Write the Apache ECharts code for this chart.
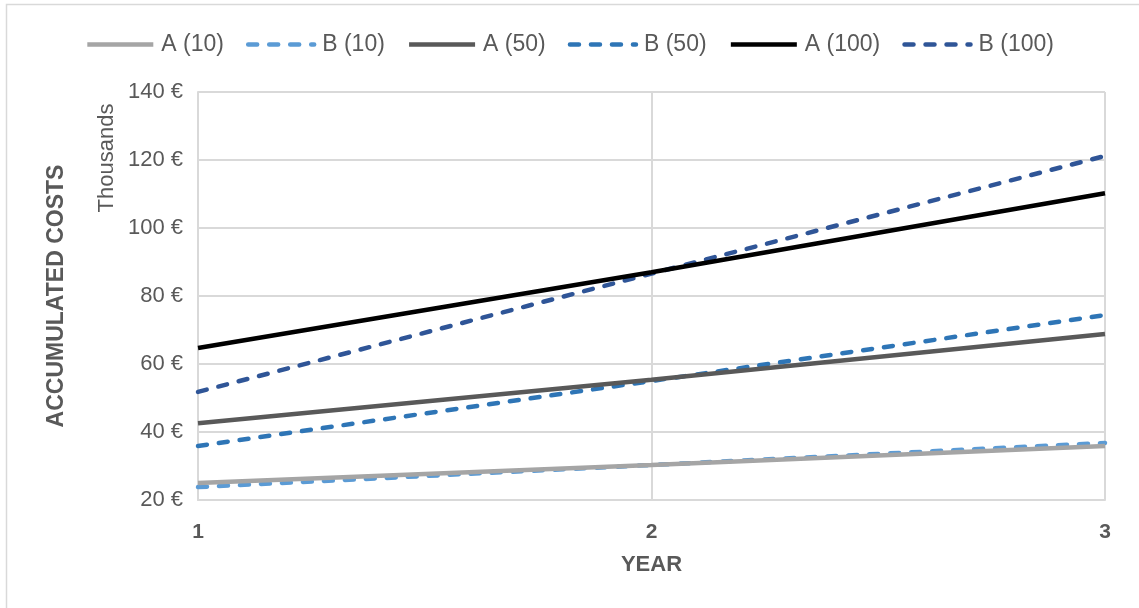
<!DOCTYPE html>
<html>
<head>
<meta charset="utf-8">
<script src="https://cdn.jsdelivr.net/npm/echarts@6/dist/echarts.min.js"></script>
<style>html,body{margin:0;padding:0;background:#fff;}#c{width:1139px;height:608px;}</style>
</head>
<body>
<div id="c"></div>
<script>
const years = ['1', '2', '3'];
const seriesNames = ['A (10)', 'B (10)', 'A (50)', 'B (50)', 'A (100)', 'B (100)'];
const a10 = [25.0, 30.3, 35.9];
const b10 = [23.8, 30.3, 36.8];
const a50 = [42.6, 55.4, 68.8];
const b50 = [35.9, 55.0, 74.4];
const a100 = [64.7, 87.0, 110.2];
const b100 = [51.8, 86.6, 121.2];
const yTicks = [20, 40, 60, 80, 100, 120, 140];

const dataList = [a10, b10, a50, b50, a100, b100];
const colors = ['#a5a5a5', '#5b9bd5', '#595959', '#2e75b6', '#000000', '#2f5597'];
const dashed = [false, true, false, true, false, true];

const chart = echarts.init(document.getElementById('c'));
const FONT = '"Liberation Sans", Arial, sans-serif';
chart.setOption({
  animation: false,
  color: colors,
  graphic: [
    { type: 'rect', shape: { x: 6.5, y: 4.5, width: 1200, height: 700 },
      style: { fill: 'none', stroke: '#d9d9d9', lineWidth: 1.5 }, z: -1 },
    { type: 'text', x: 107, y: 158, rotation: Math.PI / 2,
      style: { text: 'Thousands', font: '22px ' + FONT, fill: '#595959',
               align: 'center', verticalAlign: 'middle' } }
  ],
  legend: {
    top: 28, left: 'center',
    itemWidth: 66, itemHeight: 14, itemGap: 22,
    itemStyle: { opacity: 0 },
    lineStyle: { width: 4.5 },
    textStyle: { fontFamily: FONT, fontSize: 23, color: '#595959', padding: [0, 0, 0, 3] },
    data: seriesNames
  },
  grid: { left: 198, right: 34, top: 92, bottom: 108, containLabel: false },
  xAxis: {
    type: 'category', data: years, boundaryGap: false,
    name: 'YEAR', nameLocation: 'middle', nameGap: 54,
    nameTextStyle: { fontFamily: FONT, fontSize: 22, fontWeight: 'bold', color: '#595959' },
    axisLine: { lineStyle: { color: '#d9d9d9', width: 2 } },
    axisTick: { show: false },
    axisLabel: { fontFamily: FONT, fontSize: 21, fontWeight: 'bold', color: '#595959', margin: 22 },
    splitLine: { show: true, lineStyle: { color: '#d9d9d9', width: 2 } }
  },
  yAxis: {
    type: 'value', min: 20, max: 140, interval: 20,
    name: 'ACCUMULATED COSTS', nameLocation: 'middle', nameGap: 130,
    nameTextStyle: { fontFamily: FONT, fontSize: 23, fontWeight: 'bold', color: '#595959' },
    axisLine: { show: true, lineStyle: { color: '#d9d9d9', width: 2 } },
    axisTick: { show: false },
    axisLabel: { fontFamily: FONT, fontSize: 22, color: '#595959', margin: 15,
      formatter: v => yTicks.includes(v) ? v + ' €' : '' },
    splitLine: { lineStyle: { color: '#d9d9d9', width: 2 } }
  },
  series: seriesNames.map((n, i) => ({
    name: n, type: 'line', data: dataList[i],
    symbol: 'none', smooth: false,
    lineStyle: { color: colors[i], width: 4.5, type: dashed[i] ? [9, 12] : 'solid', cap: dashed[i] ? 'round' : 'butt' },
    itemStyle: { color: colors[i] },
    z: 10 - i
  }))
});
</script>
</body>
</html>
